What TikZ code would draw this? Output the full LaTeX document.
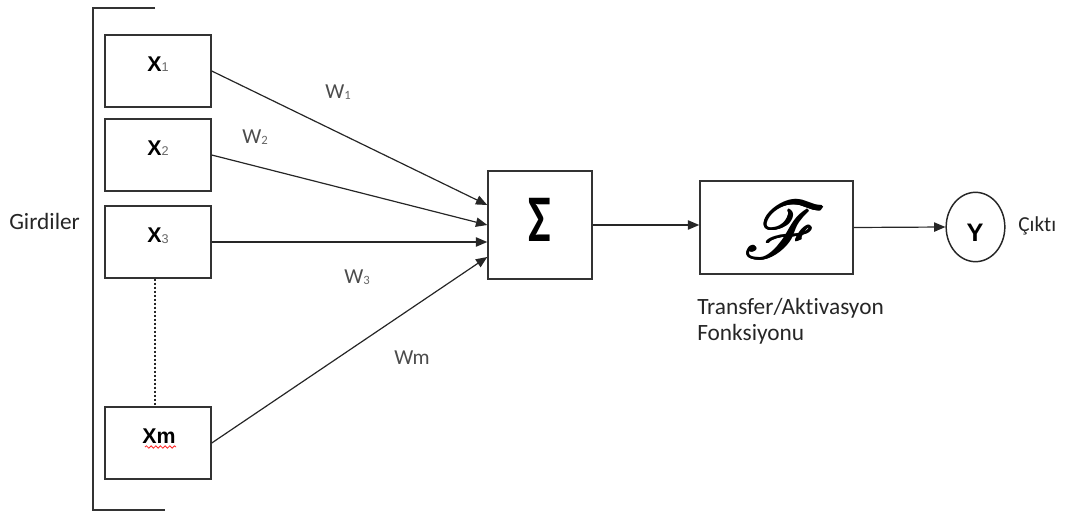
\documentclass[tikz,border=0pt]{standalone}
\usepackage{fontspec}
\usepackage{mathrsfs}
\setmainfont{Carlito}[Ligatures=NoCommon]
\newfontfamily\boldsans{Liberation Sans}
\newfontfamily\sigmafont{Carlito}
\usetikzlibrary{arrows.meta,calc,decorations.pathmorphing,shapes.geometric}

\tikzset{
  block/.style={draw=black!80, line width=1.1pt, fill=white, inner sep=0pt},
  inbox/.style={block, minimum width=79.5pt, minimum height=54pt},
  link/.style={draw=black!85, line width=0.9pt, -{Triangle[length=8.5pt,width=7pt]}},
  xlab/.style={font=\boldsans\bfseries\fontsize{16}{18}\selectfont, inner sep=0pt},
  wlab/.style={font=\fontsize{16}{18}\selectfont, text=black!70, inner sep=0pt},
  txt/.style={font=\fontsize{17.5}{19.5}\selectfont, text=black!85, inner sep=0pt},
}
\newcommand{\sub}[1]{\raisebox{-0.5pt}{\fontsize{9.5}{10}\selectfont\mdseries\color{black!60}#1}}
% heavier script F: a few overlaid copies with tiny offsets
\newcommand{\heavyF}{%
  \rlap{$\mathscr{F}$}%
  \rlap{\kern0.12pt$\mathscr{F}$}%
  \rlap{\raisebox{0.1pt}{$\mathscr{F}$}}%
  \kern0.06pt\raisebox{0.05pt}{$\mathscr{F}$}}

\begin{document}
\begin{tikzpicture}[x=0.75pt, y=-0.75pt]
  \useasboundingbox (0,0) rectangle (1072,514);

  % bracket grouping the inputs
  \draw[black!80, line width=1.1pt] (155,8) -- (93,8) -- (93,510) -- (165,510);

  % input boxes
  \node[inbox] (x1) at (158,71) {};
  \node[inbox] (x2) at (158,155) {};
  \node[inbox] (x3) at (158,242) {};
  \node[inbox] (xm) at (158,443) {};

  \node[xlab] (lx1) at (158,64) {X\sub{1}};
  \node[xlab] (lx2) at (158,148) {X\sub{2}};
  \node[xlab] (lx3) at (158,236) {X\sub{3}};
  \node[xlab] (lxm) at (159,436) {Xm};
  \draw[red!85, line width=0.6pt, decorate,
        decoration={snake, segment length=3.5pt, amplitude=0.9pt}]
        (145,447) -- (176,447);

  % ellipsis between x3 and xm
  \draw[black!85, line width=1.6pt, dash pattern=on 1.6pt off 1.4pt]
        ($(x3.south)+(-3,0)$) -- ($(xm.north)+(-3,0)$);

  % summation, activation and output
  \node[block, minimum width=78pt, minimum height=81pt] (sum) at (540,225) {};
  \node[inner sep=0pt] (sigma) at (540,220)
        {\scalebox{0.72}[1]{\sigmafont\bfseries\fontsize{50}{52}\selectfont Σ}};
  \node[block, minimum width=114.75pt, minimum height=69.75pt] (act) at (776.5,227.5) {};
  \node[inner sep=0pt] (scrF) at (785,230)
        {\scalebox{6}{\heavyF}};
  \node[draw=black!85, line width=1.1pt, ellipse, minimum width=44pt,
        minimum height=52pt, inner sep=0pt] (y) at (975.5,227) {};
  \node[font=\boldsans\bfseries\fontsize{19}{21}\selectfont, inner sep=0pt] (ly) at (975,233) {Y};

  % weighted inputs
  \draw[link] (x1.east) -- ($(sum.west)+(0,-20)$);
  \draw[link] (x2.east) -- ($(sum.west)+(0,0)$);
  \draw[link] (x3.east) -- ($(sum.west)+(0,17)$);
  \draw[link] (xm.east) -- ($(sum.west)+(0,32)$);

  \node[wlab] (w1) at (338,92) {W\sub{1}};
  \node[wlab] (w2) at (255,137) {W\sub{2}};
  \node[wlab] (w3) at (357,277) {W\sub{3}};
  \node[wlab] (wm) at (412,358) {Wm};

  \draw[link] (sum.east) -- (sum.east -| act.west);
  \draw[link] (act.east) -- (y.west);

  % text labels
  \node[txt, anchor=west] (girdi) at (9,221) {Girdiler};
  \node[txt, anchor=west, font=\fontsize{16}{18}\selectfont] (cikti) at (1018,226) {Çıktı};
  \node[txt, anchor=north west, align=left] (tf) at (697,298)
        {Transfer/Aktivasyon\\Fonksiyonu};
\end{tikzpicture}
\end{document}
